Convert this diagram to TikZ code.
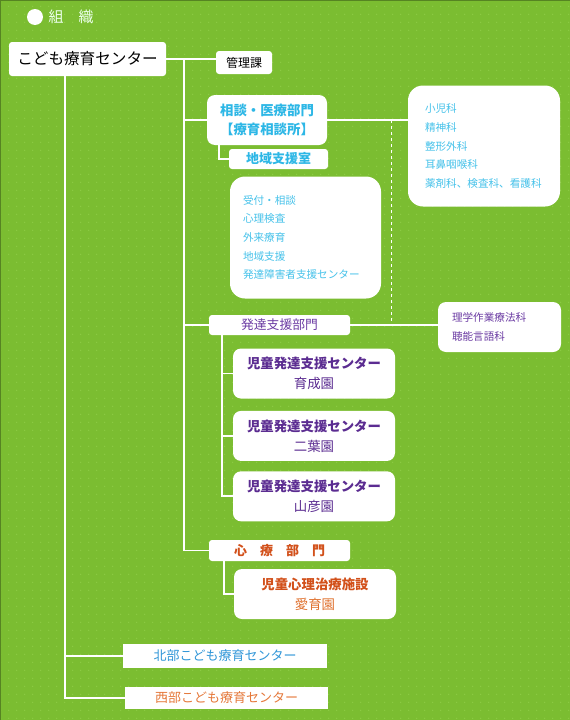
\documentclass[tikz,border=0pt]{standalone}
\usepackage{fontspec}
\setmainfont{Noto Sans CJK JP}
\usepackage{xcolor}
\usepackage{tikz}
\usetikzlibrary{positioning, patterns}

\definecolor{bggreen}{HTML}{7BBD31}
\definecolor{dotgreen}{HTML}{A2DC5C}
\definecolor{cyantext}{HTML}{2DB7E6}
\definecolor{cyanlight}{HTML}{46C2EA}
\definecolor{purpletext}{HTML}{5B2C91}
\definecolor{purplelight}{HTML}{6B3BA3}
\definecolor{orangetext}{HTML}{D2501A}
\definecolor{orangelight}{HTML}{E0712E}
\definecolor{bluetext}{HTML}{3096D8}
\definecolor{westtext}{HTML}{E5783A}

\pgfdeclarepatternformonly{greendots}{\pgfpointorigin}{\pgfpoint{8pt}{8pt}}{\pgfpoint{8pt}{8pt}}{%
  \pgfpathrectangle{\pgfpoint{1.5pt}{1.5pt}}{\pgfpoint{1pt}{1pt}}\pgfusepath{fill}}

\begin{document}
\begin{tikzpicture}[x=1pt, y=-1pt]
        \tikzstyle{box} = [rectangle, fill=white, inner sep=0pt, align=center, rounded corners=3pt]
        \tikzstyle{bigbox} = [box, rounded corners=8pt]
        \tikzstyle{listbox} = [rectangle, fill=white, align=left, rounded corners=15pt, inner ysep=0pt]
        \tikzstyle{link} = [white, line width=1.8pt]

        % background
        \useasboundingbox (0,0) rectangle (570,720);
        \fill[bggreen] (0,0) rectangle (570,720);
        \fill[pattern=greendots, pattern color=dotgreen] (0,0) rectangle (570,720);
        \draw[bggreen!70!black, line width=1pt] (0.5,720) -- (0.5,0.5) -- (570,0.5);

        % title
        \fill[white] (35,17) circle (8);
        \node[anchor=west, text=white!92!green, font=\fontsize{15}{15}\selectfont] (title) at (45,17) {組　織};

        % center and departments
        \node[box, minimum width=157pt, minimum height=34pt, font=\fontsize{15.6}{16}\selectfont] (main) at (87.5,59) {こども療育センター};
        \node[box, minimum width=56pt, minimum height=23pt, font=\fontsize{12}{12}\selectfont] (kanri) at (244,62.5) {管理課};
        \node[bigbox, minimum width=120pt, minimum height=50pt, text=cyantext, font=\bfseries\fontsize{13.4}{19}\selectfont] (soudan) at (267,120) {相談・医療部門\\【療育相談所】};
        \node[box, minimum width=99pt, minimum height=20pt, text=cyantext, font=\bfseries\fontsize{13}{13}\selectfont] (chiiki) at (278.5,159) {地域支援室};
        \node[listbox, text width=118pt, inner xsep=17pt, minimum height=121pt, text=cyanlight, font=\fontsize{10.6}{18.7}\selectfont] (ika) at (484,146) {小児科\\精神科\\整形外科\\耳鼻咽喉科\\薬剤科、検査科、看護科};
        \node[listbox, text width=125pt, inner xsep=13pt, minimum height=122pt, text=cyanlight, font=\fontsize{10.6}{18.7}\selectfont] (madoguchi) at (305.5,237.5) {受付・相談\\心理検査\\外来療育\\地域支援\\発達障害者支援センター};

        \node[box, minimum width=141pt, minimum height=20pt, text=purplelight, font=\fontsize{12.8}{13}\selectfont] (hattatsu) at (279.5,325) {発達支援部門};
        \node[listbox, rounded corners=8pt, text width=95pt, inner xsep=14pt, minimum height=50pt, text=purplelight, font=\fontsize{10.6}{19}\selectfont] (rigaku) at (499.5,327) {理学作業療法科\\聴能言語科};
        \node[bigbox, minimum width=162pt, minimum height=50pt, text=purpletext, font=\fontsize{13.4}{20}\selectfont] (ik1) at (314,373.5) {\textbf{児童発達支援センター}\\育成園};
        \node[bigbox, minimum width=162pt, minimum height=50pt, text=purpletext, font=\fontsize{13.4}{20}\selectfont, below=12pt of ik1] (ik2) {\textbf{児童発達支援センター}\\二葉園};
        \node[bigbox, minimum width=162pt, minimum height=50pt, text=purpletext, font=\fontsize{13.4}{20}\selectfont, below=10pt of ik2] (ik3) {\textbf{児童発達支援センター}\\山彦園};

        \node[box, minimum width=141pt, minimum height=21pt, text=orangetext, font=\bfseries\fontsize{13}{13}\selectfont] (shinryo) at (279.5,550.5) {心　療　部　門};
        \node[bigbox, minimum width=162pt, minimum height=50pt, text=orangetext, font=\fontsize{13.4}{20}\selectfont] (aiiku) at (315,594) {\textbf{児童心理治療施設}\\{\color{orangelight}愛育園}};

        \node[box, rounded corners=0pt, minimum width=204pt, minimum height=24pt, text=bluetext, font=\fontsize{13}{13}\selectfont] (north) at (225,656) {北部こども療育センター};
        \node[box, rounded corners=0pt, minimum width=203pt, minimum height=22pt, text=westtext, font=\fontsize{13}{13}\selectfont] (west) at (226.5,698) {西部こども療育センター};

        % trunk coordinates
        \coordinate (trunkA) at (65,76);
        \coordinate (trunkB) at (184,59);
        \coordinate (subA) at (219,145);
        \coordinate (subB) at (222,335);
        \coordinate (subC) at (224,561);
        \coordinate (dashtop) at (391,120);

        \draw [link] (main.east) -- (main.east -| kanri.west);
        \draw [link] (trunkA) |- (north.west);
        \draw [link] (trunkA) |- (west.west);
        \draw [link] (trunkB) |- (soudan.west);
        \draw [link] (trunkB) |- (hattatsu.west);
        \draw [link] (trunkB) |- (shinryo.west);
        \draw [link] (soudan.east) -- (soudan.east -| ika.west);
        \draw [link] (subA) |- (chiiki.west);
        \draw [white, line width=1pt, dashed] (dashtop) -- (dashtop |- hattatsu.east);
        \draw [link] (hattatsu.east) -- (hattatsu.east -| rigaku.west);
        \draw [link] (subB) |- (ik1.west);
        \draw [link] (subB) |- (ik2.west);
        \draw [link] (subB) |- (ik3.west);
        \draw [link] (subC) |- (aiiku.west);
    \end{tikzpicture}
\end{document}
